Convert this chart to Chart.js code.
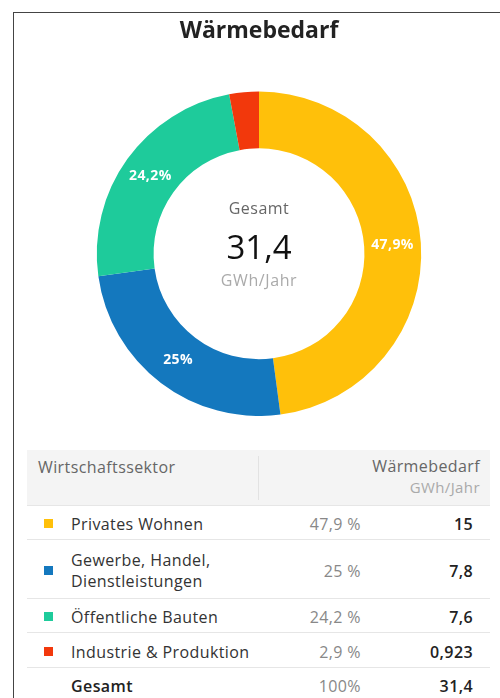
<!DOCTYPE html>
<html>
<head>
<meta charset="utf-8">
<script src="https://cdn.jsdelivr.net/npm/chart.js@4"></script>
<style>
  body { margin: 0; background: #fff; overflow: hidden; font-family: "Open Sans", sans-serif; }
  .frame { position: absolute; left: 13px; top: 12px; width: 600px; height: 800px; border: 1px solid #444; }
  .chartBox { position: absolute; left: 14px; top: 13px; width: 490px; height: 403px; }
  .head { position: absolute; left: 27px; top: 450px; width: 463px; height: 55px; background: #f4f4f4; color: #666; font-size: 16px; letter-spacing: 0.4px; }
  .head .c1 { position: absolute; left: 11px; top: 6px; }
  .head .div { position: absolute; left: 231px; top: 6px; width: 1px; height: 44px; background: #e2e2e2; }
  .head .c2 { position: absolute; right: 10px; top: 6px; text-align: right; line-height: 21px; }
  .head .c2 span { color: #aaa; font-size: 15px; }
  table { position: absolute; left: 27px; top: 505px; width: 463px; border-collapse: collapse; table-layout: fixed; font-size: 16px; letter-spacing: 0.4px; color: #333; }
  td { border-top: 1px solid #e6e6e6; padding: 4px 0 0 0; line-height: 21px; }
  td.sw { width: 44px; padding-top: 2px; }
  td.sw div { width: 9px; height: 9px; margin-left: 17px; }
  td.name { width: 206px; }
  td.pct { width: 84px; text-align: right; padding-right: 10px; color: #888; }
  td.val { text-align: right; padding-right: 17px; font-weight: 600; color: #222; }
</style>
</head>
<body>
<div class="frame"></div>
<div class="chartBox"><canvas id="heatChart"></canvas></div>
<div class="head">
  <div class="c1">Wirtschaftssektor</div>
  <div class="div"></div>
  <div class="c2">Wärmebedarf<br><span>GWh/Jahr</span></div>
</div>
<table id="heatTable"></table>
<script>
const sectors = ["Privates Wohnen", "Gewerbe, Handel, Dienstleistungen", "Öffentliche Bauten", "Industrie & Produktion"];
const tableNames = ["Privates Wohnen", "Gewerbe, Handel,<br>Dienstleistungen", "Öffentliche Bauten", "Industrie & Produktion"];
const demand = [15, 7.8, 7.6, 0.923];
const demandLabels = ["15", "7,8", "7,6", "0,923"];
const shares = [47.9, 25, 24.2, 2.9];
const totalDemand = "31,4";
const colors = ["#ffc00a", "#1478be", "#1ecb9b", "#f2380c"];
const rowHeights = [34, 59, 34, 35, 34];

const fmtPct = (v) => String(v).replace(".", ",");

// table under the chart
const table = document.getElementById("heatTable");
let html = "";
sectors.forEach((s, i) => {
  html += `<tr style="height:${rowHeights[i]}px"><td class="sw"><div style="background:${colors[i]}"></div></td>` +
    `<td class="name">${tableNames[i]}</td><td class="pct">${fmtPct(shares[i])} %</td><td class="val">${demandLabels[i]}</td></tr>`;
});
html += `<tr style="height:${rowHeights[4]}px"><td class="sw"></td><td class="name" style="font-weight:600;color:#222">Gesamt</td>` +
  `<td class="pct">100%</td><td class="val">${totalDemand}</td></tr>`;
table.innerHTML = html;

const centerText = {
  id: "centerText",
  afterDraw(chart) {
    const ctx = chart.ctx;
    const arc = chart.getDatasetMeta(0).data[0];
    const x = arc.x, y = arc.y;
    ctx.save();
    ctx.textAlign = "center";
    ctx.textBaseline = "middle";
    ctx.letterSpacing = "0.5px";
    ctx.fillStyle = "#666";
    ctx.font = '16px "Open Sans"';
    ctx.fillText("Gesamt", x, y - 44);
    ctx.fillStyle = "#111";
    ctx.letterSpacing = "0px";
    ctx.font = '33px "Open Sans"';
    ctx.fillText(totalDemand, x, y - 4);
    ctx.fillStyle = "#aaa";
    ctx.letterSpacing = "0.6px";
    ctx.font = '16px "Open Sans"';
    ctx.fillText("GWh/Jahr", x, y + 28);

    // percentage labels on the slices
    ctx.fillStyle = "#fff";
    ctx.letterSpacing = "0.4px";
    ctx.font = 'bold 14px "Open Sans"';
    chart.getDatasetMeta(0).data.forEach((el, i) => {
      if (shares[i] < 5) return;
      const p = el.tooltipPosition();
      ctx.fillText(fmtPct(shares[i]) + "%", p.x, p.y);
    });
    ctx.restore();
  }
};

new Chart(document.getElementById("heatChart"), {
  type: "doughnut",
  data: {
    labels: sectors,
    datasets: [{
      data: demand,
      backgroundColor: colors,
      borderWidth: 0
    }]
  },
  options: {
    responsive: true,
    maintainAspectRatio: false,
    animation: false,
    cutout: "65%",
    plugins: {
      legend: { display: false },
      tooltip: { enabled: false },
      title: {
        display: true,
        text: "Wärmebedarf",
        color: "#222",
        font: { family: "Open Sans", size: 23, weight: "bold" },
        padding: { top: 5, bottom: 46 }
      }
    }
  },
  plugins: [centerText]
});
</script>
</body>
</html>
